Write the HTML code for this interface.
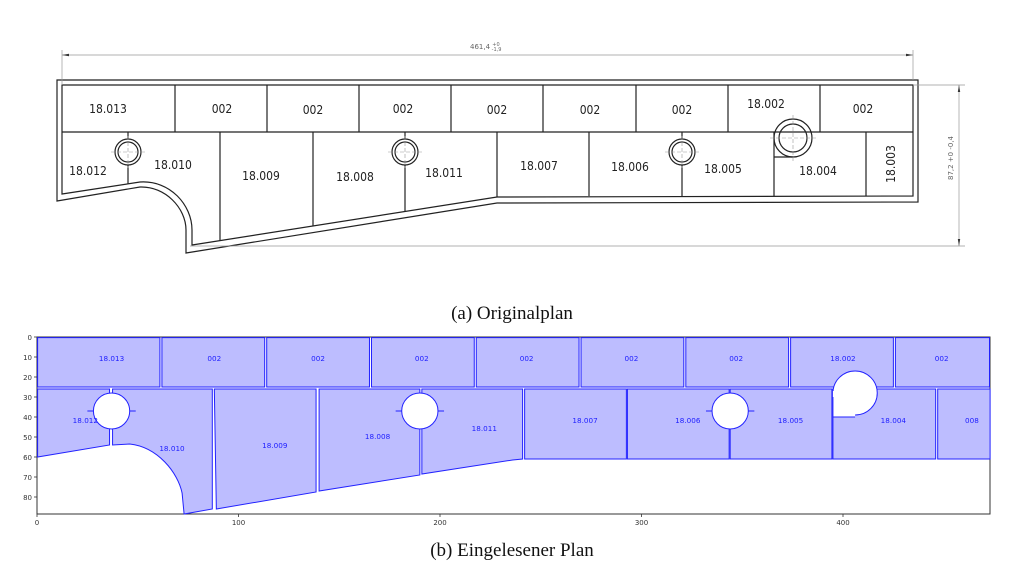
<!DOCTYPE html>
<html><head><meta charset="utf-8"><style>
html,body{margin:0;padding:0;background:#fff;}
svg{display:block;}
</style></head><body>
<svg width="1024" height="584" viewBox="0 0 1024 584" xmlns="http://www.w3.org/2000/svg">
<!-- Top drawing -->
<g fill="none" stroke="#222" stroke-width="1.2">
  <!-- outer -->
  <path d="M57,80 L918,80 L918,202 L497,203 L186,253 L186,230 C186,208 165,186 140,187 L57,201 Z"/>
  <!-- inner -->
  <path d="M62,85 L913,85 L913,196 L497,197 L192,245 L192,230 C192,205 170,180 140,182 L62,194 Z"/>
  <line x1="62" y1="132" x2="913" y2="132"/>
  <g>
    <line x1="175" y1="85" x2="175" y2="132"/><line x1="267" y1="85" x2="267" y2="132"/>
    <line x1="359" y1="85" x2="359" y2="132"/><line x1="451" y1="85" x2="451" y2="132"/>
    <line x1="543" y1="85" x2="543" y2="132"/><line x1="636" y1="85" x2="636" y2="132"/>
    <line x1="728" y1="85" x2="728" y2="132"/><line x1="820" y1="85" x2="820" y2="132"/>
    <line x1="128" y1="132" x2="128" y2="139"/><line x1="128" y1="165" x2="128" y2="184"/>
    <line x1="220" y1="132" x2="220" y2="241"/><line x1="313" y1="132" x2="313" y2="226"/>
    <line x1="405" y1="132" x2="405" y2="139"/><line x1="405" y1="165" x2="405" y2="211"/>
    <line x1="497" y1="132" x2="497" y2="197"/><line x1="589" y1="132" x2="589" y2="196"/>
    <line x1="682" y1="132" x2="682" y2="139"/><line x1="682" y1="165" x2="682" y2="196"/>
    <line x1="774" y1="132" x2="774" y2="196"/><line x1="866" y1="132" x2="866" y2="196"/>
  </g>
  <circle cx="128" cy="152" r="13"/><circle cx="128" cy="152" r="10"/>
  <circle cx="405" cy="152" r="13"/><circle cx="405" cy="152" r="10"/>
  <circle cx="682" cy="152" r="13"/><circle cx="682" cy="152" r="10"/>
  <circle cx="793" cy="138" r="19"/><circle cx="793" cy="138" r="14"/>
  <path d="M774,157 L793,157" />
</g>
<g stroke="#999" stroke-width="0.6" stroke-dasharray="4,2" fill="none">
  <line x1="111" y1="152" x2="145" y2="152"/><line x1="128" y1="136" x2="128" y2="168"/>
  <line x1="388" y1="152" x2="422" y2="152"/><line x1="405" y1="136" x2="405" y2="168"/>
  <line x1="665" y1="152" x2="699" y2="152"/><line x1="682" y1="136" x2="682" y2="168"/>
  <line x1="770" y1="138" x2="816" y2="138"/><line x1="793" y1="115" x2="793" y2="161"/>
</g>
<!-- dimensions -->
<g stroke="#999" stroke-width="0.7" fill="none">
  <line x1="62" y1="55" x2="913" y2="55"/>
  <line x1="62" y1="50" x2="62" y2="85"/><line x1="913" y1="50" x2="913" y2="80"/>
  <line x1="959" y1="85" x2="959" y2="246"/>
  <line x1="913" y1="85" x2="965" y2="85"/>
  <line x1="190" y1="246" x2="965" y2="246"/>
</g>
<g fill="#333"><path d="M62,55 l7,-1.2 v2.4z"/><path d="M913,55 l-7,-1.2 v2.4z"/>
<path d="M959,85 l-1.2,7 h2.4z"/><path d="M959,246 l-1.2,-7 h2.4z"/></g>
<text x="470" y="49" font-family="DejaVu Sans, sans-serif" font-size="7" fill="#666">461,4 <tspan font-size="5" dy="-3">+0</tspan><tspan font-size="5" dx="-8" dy="5">-1,9</tspan></text>
<text transform="translate(953,180) rotate(-90)" font-family="DejaVu Sans, sans-serif" font-size="7" fill="#666">87,2 +0 -0,4</text>
<g font-family="DejaVu Sans Condensed, DejaVu Sans, sans-serif" font-size="12" fill="#222" text-anchor="middle">
  <text x="108" y="113">18.013</text><text x="222" y="113">002</text><text x="313" y="114">002</text>
  <text x="403" y="113">002</text><text x="497" y="114">002</text><text x="590" y="114">002</text>
  <text x="682" y="114">002</text><text x="766" y="108">18.002</text><text x="863" y="113">002</text>
  <text x="88" y="175">18.012</text><text x="173" y="169">18.010</text><text x="261" y="180">18.009</text>
  <text x="355" y="181">18.008</text><text x="444" y="177">18.011</text><text x="539" y="170">18.007</text>
  <text x="630" y="171">18.006</text><text x="723" y="173">18.005</text><text x="818" y="175">18.004</text>
  <text transform="translate(895,164) rotate(-90)" >18.003</text>
</g>
<text x="512" y="319" font-family="Liberation Serif, serif" font-size="19" text-anchor="middle" fill="#111">(a) Originalplan</text>

<!-- plot -->
<rect x="37" y="337" width="953" height="177" fill="none" stroke="#333" stroke-width="1"/>
<g transform="matrix(2.015,0,0,2,37,337)" fill="#bdbdff" stroke="#2222ff" stroke-width="1" >
 <g style="vector-effect:non-scaling-stroke">
  <rect x="0.3" y="0.3" width="60.7" height="24.7" vector-effect="non-scaling-stroke"/>
  <rect x="62" y="0.3" width="51" height="24.7" vector-effect="non-scaling-stroke"/>
  <rect x="114" y="0.3" width="51" height="24.7" vector-effect="non-scaling-stroke"/>
  <rect x="166" y="0.3" width="51" height="24.7" vector-effect="non-scaling-stroke"/>
  <rect x="218" y="0.3" width="51" height="24.7" vector-effect="non-scaling-stroke"/>
  <rect x="270" y="0.3" width="51" height="24.7" vector-effect="non-scaling-stroke"/>
  <rect x="322" y="0.3" width="51" height="24.7" vector-effect="non-scaling-stroke"/>
  <rect x="374" y="0.3" width="51" height="24.7" vector-effect="non-scaling-stroke"/>
  <rect x="426" y="0.3" width="46.7" height="24.7" vector-effect="non-scaling-stroke"/>
  <path d="M0.3,26 L36,26 L36,54 L0.3,60 Z" vector-effect="non-scaling-stroke"/>
  <path d="M37.5,26 L87,26 L87,86 L73,88.5 L72,78 C70,68 60,55 46,53.5 L37.5,54 Z" vector-effect="non-scaling-stroke"/>
  <path d="M88,26 L138.5,26 L138.5,77.5 L89,86 Z" vector-effect="non-scaling-stroke"/>
  <path d="M140,26 L190,26 L190,69 L140,77 Z" vector-effect="non-scaling-stroke"/>
  <path d="M191,26 L241,26 L241,61 L236,61.5 L191,68.5 Z" vector-effect="non-scaling-stroke"/>
  <rect x="242" y="26" width="50.5" height="35" vector-effect="non-scaling-stroke"/>
  <rect x="293" y="26" width="50.5" height="35" vector-effect="non-scaling-stroke"/>
  <rect x="344" y="26" width="50.5" height="35" vector-effect="non-scaling-stroke"/>
  <rect x="395" y="26" width="51" height="35" vector-effect="non-scaling-stroke"/>
  <rect x="447" y="26" width="26" height="35" vector-effect="non-scaling-stroke"/>
  <g fill="#fff">
   <circle cx="37" cy="37" r="9" vector-effect="non-scaling-stroke"/>
   <circle cx="190" cy="37" r="9" vector-effect="non-scaling-stroke"/>
   <circle cx="344" cy="37" r="9" vector-effect="non-scaling-stroke"/>
   <circle cx="406" cy="28" r="11" vector-effect="non-scaling-stroke"/>
   <rect x="395" y="27" width="11" height="13" stroke="none"/>
   <path d="M395,40 L406,40" vector-effect="non-scaling-stroke" fill="none"/>
   <path d="M395,30 L395,40" vector-effect="non-scaling-stroke" fill="none"/>
  </g>
  <g fill="none">
   <path d="M25,37 h3 M46,37 h3 M178,37 h3 M199,37 h3 M332,37 h3 M353,37 h3" vector-effect="non-scaling-stroke"/>
  </g>
 </g>
 <g fill="#2222ff" stroke="none" font-family="DejaVu Sans, sans-serif" font-size="3.6" text-anchor="middle">
  <text x="37" y="12">18.013</text><text x="88" y="12">002</text><text x="139.5" y="12">002</text>
  <text x="191" y="12">002</text><text x="243" y="12">002</text><text x="295" y="12">002</text>
  <text x="347" y="12">002</text><text x="400" y="12">18.002</text><text x="449" y="12">002</text>
  <text x="24" y="43">18.012</text><text x="67" y="57">18.010</text><text x="118" y="55.5">18.009</text>
  <text x="169" y="51">18.008</text><text x="222" y="47">18.011</text><text x="272" y="43">18.007</text>
  <text x="323" y="43">18.006</text><text x="374" y="43">18.005</text><text x="425" y="43">18.004</text>
  <text x="464" y="43">008</text>
 </g>
</g>
<g font-family="DejaVu Sans, sans-serif" font-size="7" fill="#333" text-anchor="end">
  <text x="32" y="340">0</text><text x="32" y="360">10</text><text x="32" y="380">20</text>
  <text x="32" y="400">30</text><text x="32" y="420">40</text><text x="32" y="440">50</text>
  <text x="32" y="460">60</text><text x="32" y="480">70</text><text x="32" y="500">80</text>
</g>
<g stroke="#333" stroke-width="0.8">
  <line x1="34" y1="337" x2="37" y2="337"/><line x1="34" y1="357" x2="37" y2="357"/><line x1="34" y1="377" x2="37" y2="377"/>
  <line x1="34" y1="397" x2="37" y2="397"/><line x1="34" y1="417" x2="37" y2="417"/><line x1="34" y1="437" x2="37" y2="437"/>
  <line x1="34" y1="457" x2="37" y2="457"/><line x1="34" y1="477" x2="37" y2="477"/><line x1="34" y1="497" x2="37" y2="497"/>
  <line x1="37" y1="514" x2="37" y2="517"/><line x1="238.5" y1="514" x2="238.5" y2="517"/><line x1="440" y1="514" x2="440" y2="517"/>
  <line x1="641.5" y1="514" x2="641.5" y2="517"/><line x1="843" y1="514" x2="843" y2="517"/>
</g>
<g font-family="DejaVu Sans, sans-serif" font-size="7" fill="#333" text-anchor="middle">
  <text x="37" y="525">0</text><text x="238.5" y="525">100</text><text x="440" y="525">200</text>
  <text x="641.5" y="525">300</text><text x="843" y="525">400</text>
</g>
<text x="512" y="556" font-family="Liberation Serif, serif" font-size="19" text-anchor="middle" fill="#111">(b) Eingelesener Plan</text>
</svg>
</body></html>
